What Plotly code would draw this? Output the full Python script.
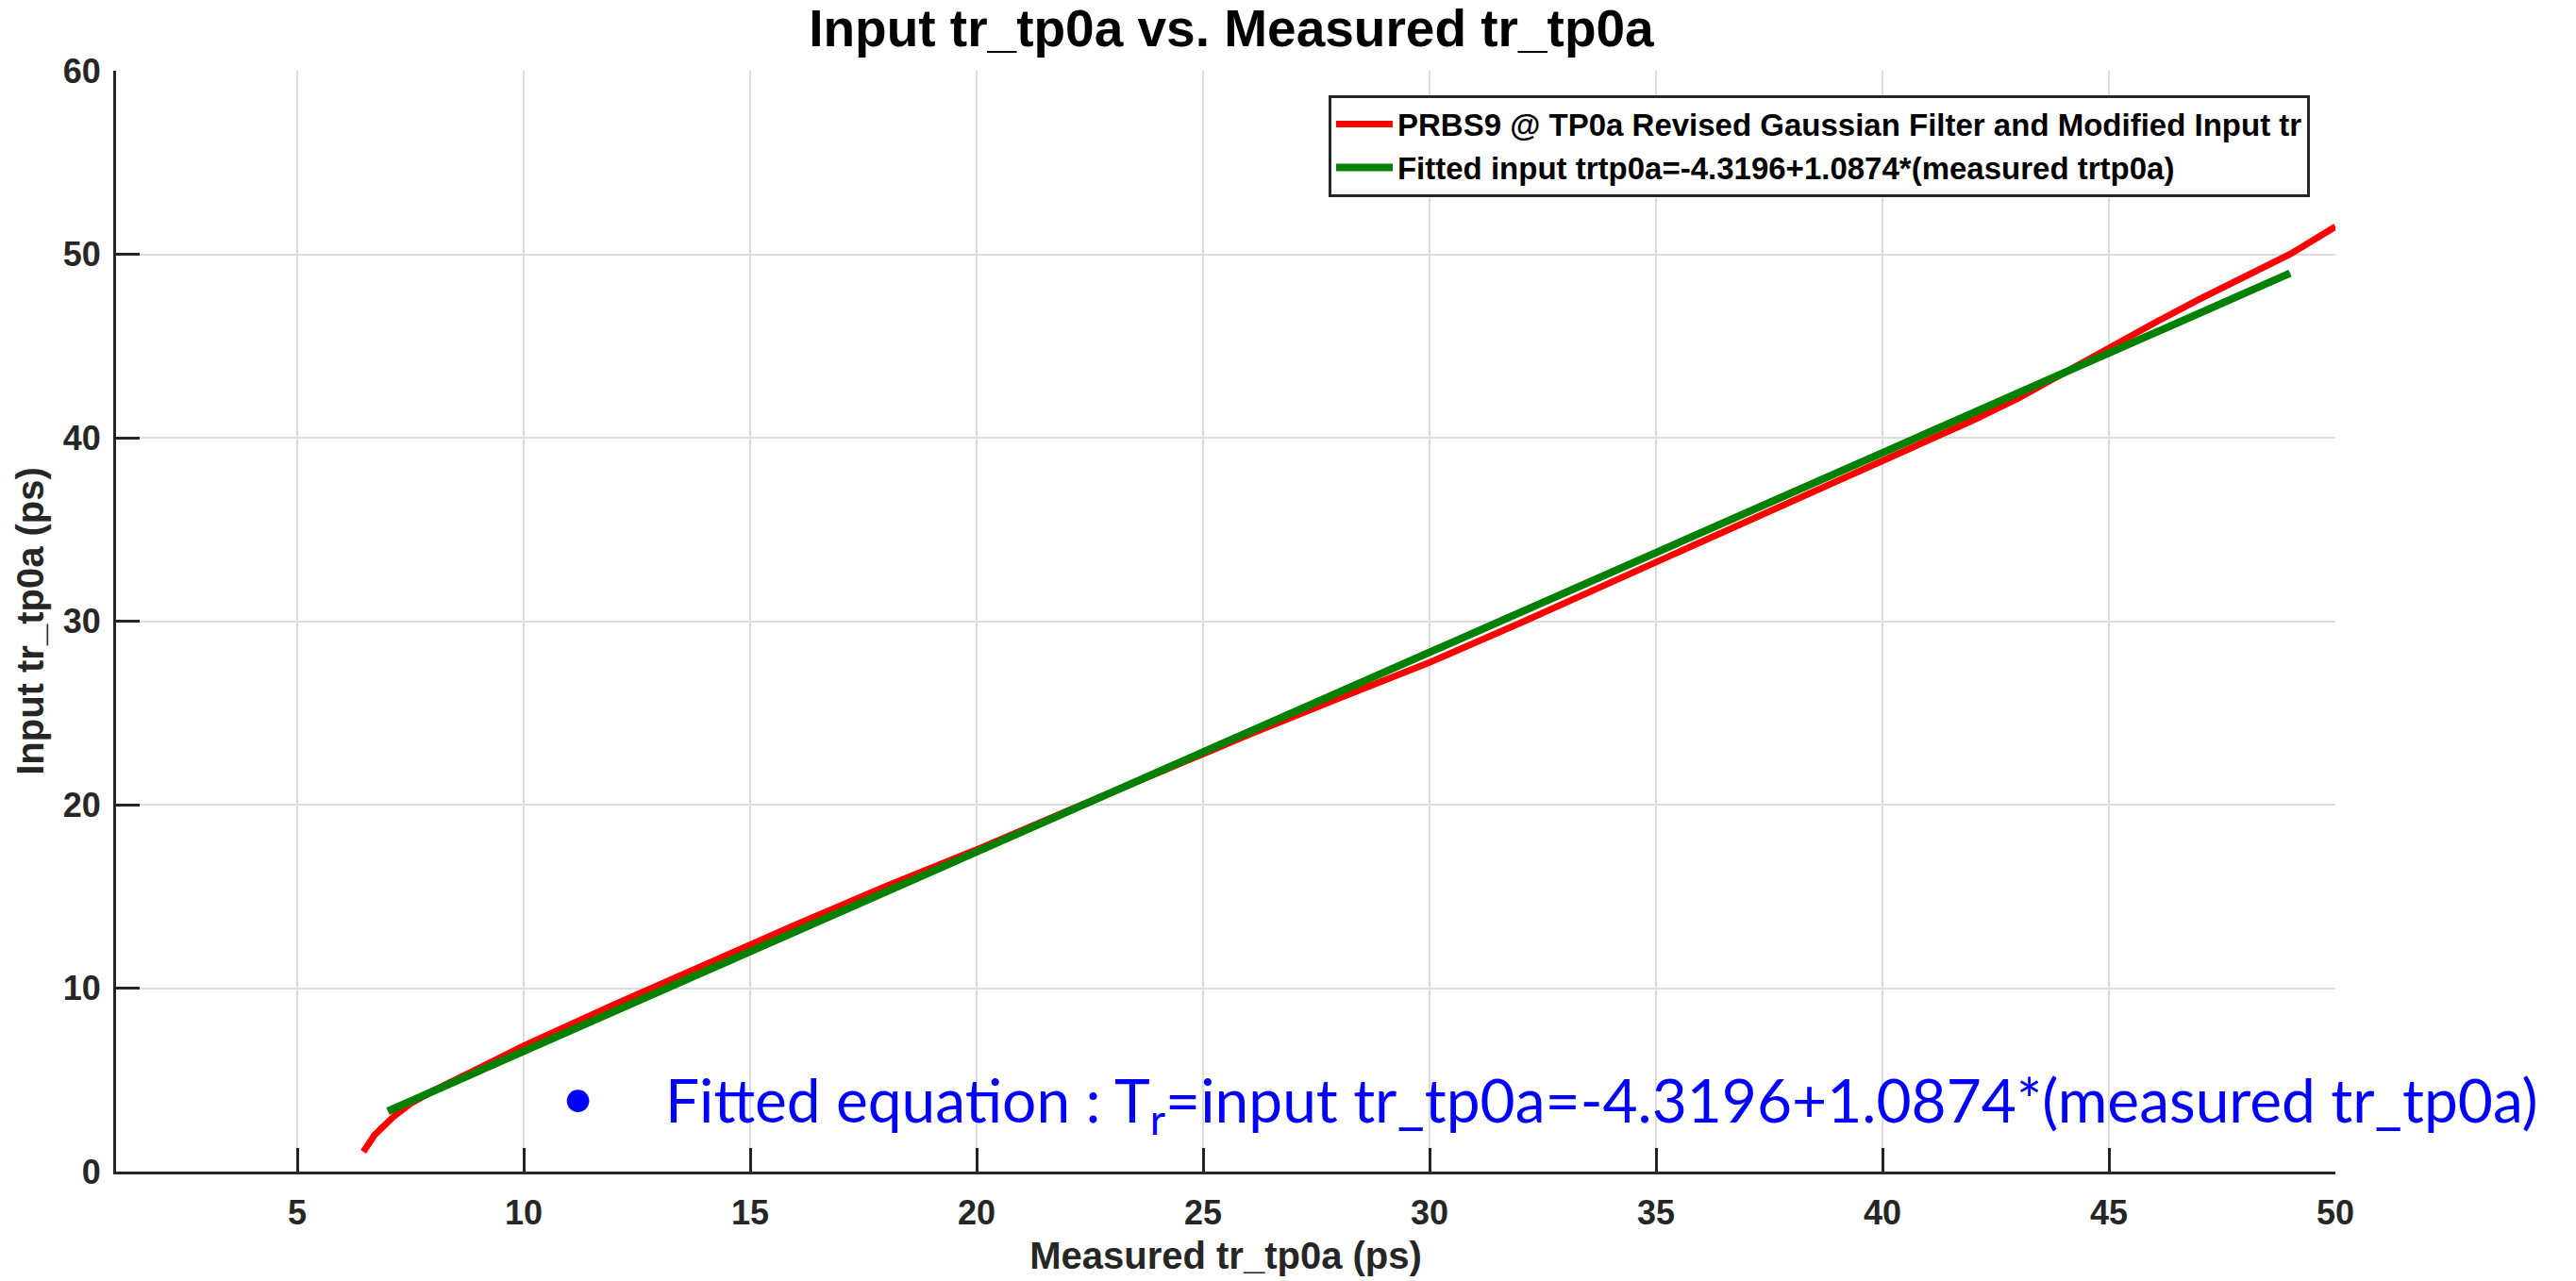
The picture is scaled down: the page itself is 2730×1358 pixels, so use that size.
import plotly.graph_objects as go

# Measured vs. input rise time, PRBS9 @ TP0a
measured_tr = [6.46, 6.71, 7.12, 7.5, 8.0, 9.0, 10.0, 12.0, 14.0, 15.0, 16.0, 18.0, 20.0,
               22.0, 24.0, 26.0, 28.0, 30.0, 32.0, 34.0, 35.0, 36.0, 38.0, 40.0, 41.0,
               42.0, 43.0, 44.0, 45.0, 46.0, 47.0, 48.0, 49.0, 50.0]
input_tr = [1.08, 2.0, 2.98, 3.7, 4.4, 5.65, 6.85, 9.1, 11.3, 12.4, 13.45, 15.55, 17.55,
            19.65, 21.75, 23.8, 25.8, 27.75, 29.9, 32.1, 33.2, 34.3, 36.5, 38.75, 39.85,
            40.95, 42.15, 43.55, 44.95, 46.25, 47.55, 48.8, 50.0, 51.5]

# Linear fit: input = intercept + slope * measured
fit_intercept = -4.3196
fit_slope = 1.0874
fit_range = [7.0, 49.0]
fit_y = [fit_intercept + fit_slope * v for v in fit_range]

x_ticks = [5, 10, 15, 20, 25, 30, 35, 40, 45, 50]
y_ticks = [0, 10, 20, 30, 40, 50, 60]

series_names = [
    "PRBS9 @ TP0a Revised Gaussian Filter and Modified Input tr",
    "Fitted input trtp0a=-4.3196+1.0874*(measured trtp0a)",
]

AX_COLOR = "#262626"
GRID = "#dcdcdc"
BOLD = "Liberation Sans"

fig = go.Figure()
fig.add_trace(go.Scatter(x=measured_tr, y=input_tr, mode="lines", name=series_names[0],
                         line=dict(color="#ff0000", width=7)))
fig.add_trace(go.Scatter(x=fit_range, y=fit_y, mode="lines", name=series_names[1],
                         line=dict(color="#008000", width=8)))

axis_common = dict(
    showline=True, linecolor=AX_COLOR, linewidth=3, mirror=False,
    showgrid=True, gridcolor=GRID, gridwidth=2, zeroline=False,
    ticks="inside", ticklen=25, tickwidth=2.5, tickcolor=AX_COLOR,
    tickfont=dict(family=BOLD, size=36, color=AX_COLOR, weight="bold"),
)

fig.update_xaxes(range=[1, 50], tickvals=x_ticks, ticklabelstandoff=10,
                 title=dict(text="<b>Measured tr_tp0a (ps)</b>", standoff=12,
                            font=dict(family=BOLD, size=40, color=AX_COLOR)),
                 **axis_common)
fig.update_yaxes(range=[0, 60], tickvals=y_ticks, ticklabelstandoff=6,
                 title=dict(text="<b>Input tr_tp0a (ps)</b>", standoff=8,
                            font=dict(family=BOLD, size=40, color=AX_COLOR)),
                 **axis_common)

fig.add_annotation(xref="paper", yref="paper", x=0.208, y=0.069, text="•",
                   showarrow=False, xanchor="center", yanchor="middle",
                   font=dict(family="Lato", size=64, color="#0000ff"))
fig.add_annotation(xref="paper", yref="paper", x=0.2466, y=0.062,
                   text="Fitted equation : T<sub>r</sub>=input tr_tp0a=-4.3196+1.0874*(measured tr_tp0a)",
                   showarrow=False, xanchor="left", yanchor="middle",
                   font=dict(family="Lato", size=64, color="#0000ff"))

fig.update_layout(
    width=2730, height=1358,
    margin=dict(l=123, r=255, t=75, b=114),
    paper_bgcolor="white", plot_bgcolor="white",
    title=dict(text="<b>Input tr_tp0a vs. Measured tr_tp0a</b>", x=0.478, xanchor="center",
               y=0.978, yanchor="middle",
               font=dict(family=BOLD, size=55, color="black")),
    legend=dict(x=0.9885, y=0.978, xanchor="right", yanchor="top",
                bgcolor="white", bordercolor=AX_COLOR, borderwidth=3,
                font=dict(family=BOLD, size=33, color="black", weight="bold"),
                tracegroupgap=0, itemwidth=60),
    showlegend=True,
)

fig.write_html("out.html")
